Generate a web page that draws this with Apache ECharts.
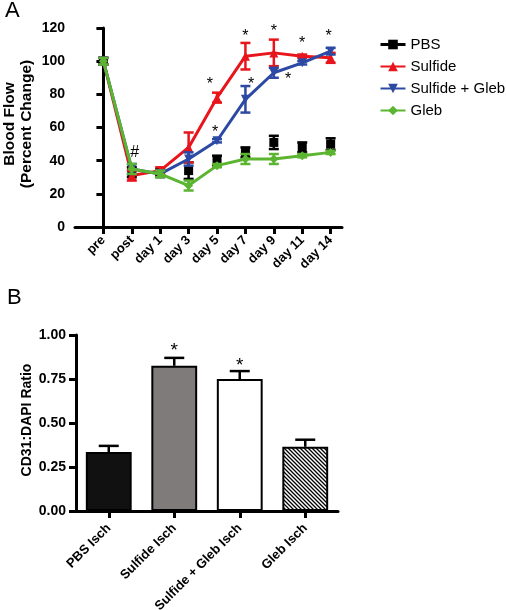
<!DOCTYPE html>
<html><head><meta charset="utf-8">
<script src="https://cdn.jsdelivr.net/npm/echarts@6/dist/echarts.min.js"></script>
<style>html,body{margin:0;padding:0;background:#fff}#c{width:506px;height:610px}</style>
</head><body><div id="c"></div>
<script>
// ---- Panel A data ----
const categoriesA = ['pre','post','day 1','day 3','day 5','day 7','day 9','day 11','day 14'];
const seriesNamesA = ['PBS','Sulfide','Sulfide + Gleb','Gleb'];
const pbsMean      = [100, 33, 33, 34, 40, 45, 51, 48, 50];
const pbsErr       = [2, 3, 2, 5, 3, 3, 4, 3, 3.5];
const sulfideMean  = [100, 31, 34, 48, 78, 103, 105, 103, 102];
const sulfideErr   = [2, 3, 2, 9, 3, 8, 8, 1, 3];
const sulfGlebMean = [100, 35, 32, 41, 52, 77, 93, 99, 106];
const sulfGlebErr  = [2, 3, 2, 4, 1, 8, 3, 1, 2];
const glebMean     = [100, 35, 32, 25, 37, 41, 41, 43, 45];
const glebErr      = [2, 3, 2, 3, 1, 3, 3, 1, 1];
const yTicksA = [0, 20, 40, 60, 80, 100, 120];
// significance marks: [x position (category index), y value, text]
const marksA = [[3.75, 88, '*'], [3.93, 59, '*'], [5, 117, '*'], [5.2, 88, '*'], [6, 120, '*'], [6.5, 91, '*'], [7, 113, '*'], [7.93, 117, '*'], [1.1, 45, '#']];

// ---- Panel B data ----
const categoriesB = ['PBS Isch','Sulfide Isch','Sulfide + Gleb Isch','Gleb Isch'];
const ratioMean = [0.335, 0.825, 0.75, 0.365];
const ratioErr  = [0.035, 0.045, 0.045, 0.04];
const yTicksB = [0, 0.25, 0.5, 0.75, 1.0];
const marksB = [[1, 0.935, '*'], [2, 0.85, '*']];

// ---- styles ----
const colorsA = ['#000000', '#e8151c', '#2c4aa3', '#5cb531'];
const symbolsA = ['rect', 'triangle', 'triangle', 'diamond'];
const rotA = [0, 0, 180, 0];
const meansA = [pbsMean, sulfideMean, sulfGlebMean, glebMean];
const errsA = [pbsErr, sulfideErr, sulfGlebErr, glebErr];

const pc = document.createElement('canvas'); pc.width = 4; pc.height = 4;
const g = pc.getContext('2d');
g.fillStyle = '#fff'; g.fillRect(0, 0, 4, 4);
g.strokeStyle = '#000'; g.lineWidth = 1.3;
g.beginPath(); g.moveTo(-1, -1); g.lineTo(5, 5); g.moveTo(-1, 3); g.lineTo(1, 5); g.moveTo(3, -1); g.lineTo(5, 1); g.stroke();
const barColors = ['#111111', '#7f7b7a', '#ffffff', {image: pc, repeat: 'repeat'}];

function errRender(color, capHalf, lw, upOnly) {
  return function (params, api) {
    const x = api.value(0), lo = api.value(1), hi = api.value(2);
    const pLo = api.coord([x, lo]), pHi = api.coord([x, hi]);
    const st = {stroke: color, lineWidth: lw};
    const ch = [
      {type: 'line', shape: {x1: pLo[0], y1: pLo[1], x2: pHi[0], y2: pHi[1]}, style: st},
      {type: 'line', shape: {x1: pHi[0] - capHalf, y1: pHi[1], x2: pHi[0] + capHalf, y2: pHi[1]}, style: st}
    ];
    if (!upOnly) ch.push({type: 'line', shape: {x1: pLo[0] - capHalf, y1: pLo[1], x2: pLo[0] + capHalf, y2: pLo[1]}, style: st});
    return {type: 'group', children: ch};
  };
}
function markRender(marks, fontSize) {
  return function (params, api) {
    const p = api.coord([api.value(0), api.value(1)]);
    const t = marks[params.dataIndex][2];
    return {type: 'text', x: p[0], y: p[1] + (t === '*' ? fontSize * 0.22 : 0),
      style: {text: t, fontSize: fontSize, fill: '#000', align: 'center', verticalAlign: 'middle', fontFamily: 'Liberation Sans'}};
  };
}

const idxA = categoriesA.map((c, i) => i);
const series = [];
seriesNamesA.forEach((name, k) => {
  series.push({
    type: 'custom', xAxisIndex: 0, yAxisIndex: 0, z: 2 + k * 2,
    data: meansA[k].map((v, i) => [i, v - errsA[k][i], v + errsA[k][i]]),
    encode: {x: 0, y: [1, 2]},
    renderItem: errRender(colorsA[k], 5, 2.5, false),
    silent: true
  });
  series.push({
    name: name, type: 'line', xAxisIndex: 0, yAxisIndex: 0, z: 3 + k * 2,
    data: meansA[k].map((v, i) => [i, v]),
    symbol: symbolsA[k], symbolRotate: rotA[k], symbolSize: 9,
    showSymbol: true,
    itemStyle: {color: colorsA[k], opacity: 1},
    lineStyle: {color: colorsA[k], width: 3, opacity: k === 0 ? 0 : 1},
    animation: false
  });
});
series.push({
  type: 'custom', xAxisIndex: 0, yAxisIndex: 0, z: 20,
  data: marksA.map(m => [m[0], m[1]]),
  encode: {x: 0, y: 1},
  renderItem: markRender(marksA, 16),
  silent: true
});
series.push({
  type: 'bar', xAxisIndex: 1, yAxisIndex: 1, barWidth: '70%', z: 2,
  data: ratioMean.map((v, i) => ({value: v, itemStyle: {color: barColors[i]}})),
  itemStyle: {borderColor: '#000', borderWidth: 2},
  animation: false
});
series.push({
  type: 'custom', xAxisIndex: 1, yAxisIndex: 1, z: 1,
  data: ratioMean.map((v, i) => [i, v, v + ratioErr[i]]),
  encode: {x: 0, y: [1, 2]},
  renderItem: errRender('#000', 10, 2.5, true),
  silent: true
});
series.push({
  type: 'custom', xAxisIndex: 1, yAxisIndex: 1, z: 20,
  data: marksB.map(m => [m[0], m[1]]),
  encode: {x: 0, y: 1},
  renderItem: markRender(marksB, 19),
  silent: true
});

const axisCommon = {
  axisLine: {show: true, lineStyle: {color: '#000', width: 3}},
  axisTick: {show: true, length: 7, lineStyle: {color: '#000', width: 3}},
  splitLine: {show: false}
};
const lblY = {color: '#000', fontWeight: 'bold', fontSize: 14, fontFamily: 'Liberation Sans', margin: 10};
const lblX = {color: '#000', fontWeight: 'bold', fontSize: 13, fontFamily: 'Liberation Sans', rotate: 45, margin: 11};

const option = {
  animation: false,
  textStyle: {fontFamily: 'Liberation Sans'},
  grid: [
    {left: 75, top: 28, width: 267, height: 199, containLabel: false, outerBoundsMode: 'none'},
    {left: 76, top: 335, width: 262, height: 176, containLabel: false, outerBoundsMode: 'none'}
  ],
  xAxis: [
    Object.assign({}, axisCommon, {gridIndex: 0, type: 'value', min: -1, max: 8.4, interval: 1,
      axisTick: {show: true, length: 7, lineStyle: {color: '#000', width: 3}, customValues: idxA},
      axisLabel: Object.assign({}, lblX, {customValues: idxA, formatter: v => categoriesA[Math.round(v)] || ''})}),
    Object.assign({}, axisCommon, {gridIndex: 1, type: 'category', data: categoriesB,
      axisTick: {show: true, length: 7, alignWithLabel: true, lineStyle: {color: '#000', width: 3}},
      axisLabel: Object.assign({}, lblX, {interval: 0, margin: 15})})
  ],
  yAxis: [
    Object.assign({}, axisCommon, {gridIndex: 0, type: 'value', min: yTicksA[0], max: yTicksA[yTicksA.length - 1], interval: 20, axisLabel: lblY}),
    Object.assign({}, axisCommon, {gridIndex: 1, type: 'value', min: yTicksB[0], max: yTicksB[yTicksB.length - 1], interval: 0.25,
      axisLabel: Object.assign({}, lblY, {formatter: v => v.toFixed(2)})})
  ],
  legend: {
    orient: 'vertical', left: 374, top: 32, itemWidth: 25, itemHeight: 12, itemGap: 7,
    textStyle: {fontSize: 15, color: '#000', fontFamily: 'Liberation Sans'},
    data: [{name: 'PBS', lineStyle: {opacity: 1, width: 3, color: '#000'}}, 'Sulfide', 'Sulfide + Gleb', 'Gleb']
  },
  graphic: [
    {type: 'text', left: 5, top: 0, style: {text: 'A', fontSize: 22, fill: '#000', fontFamily: 'Liberation Sans'}},
    {type: 'text', left: 7, top: 287, style: {text: 'B', fontSize: 22, fill: '#000', fontFamily: 'Liberation Sans'}},
    {type: 'text', x: 18, y: 124, rotation: Math.PI / 2, style: {text: 'Blood Flow\n(Percent Change)', fontSize: 15.5, fontWeight: 'bold', fill: '#000', align: 'center', verticalAlign: 'middle', lineHeight: 17, fontFamily: 'Liberation Sans'}},
    {type: 'text', x: 27, y: 420, rotation: Math.PI / 2, style: {text: 'CD31:DAPI Ratio', fontSize: 14, fontWeight: 'bold', fill: '#000', align: 'center', verticalAlign: 'middle', fontFamily: 'Liberation Sans'}}
  ],
  series: series
};
const chart = echarts.init(document.getElementById('c'), null, {renderer: 'canvas'});
chart.setOption(option);
</script></body></html>
